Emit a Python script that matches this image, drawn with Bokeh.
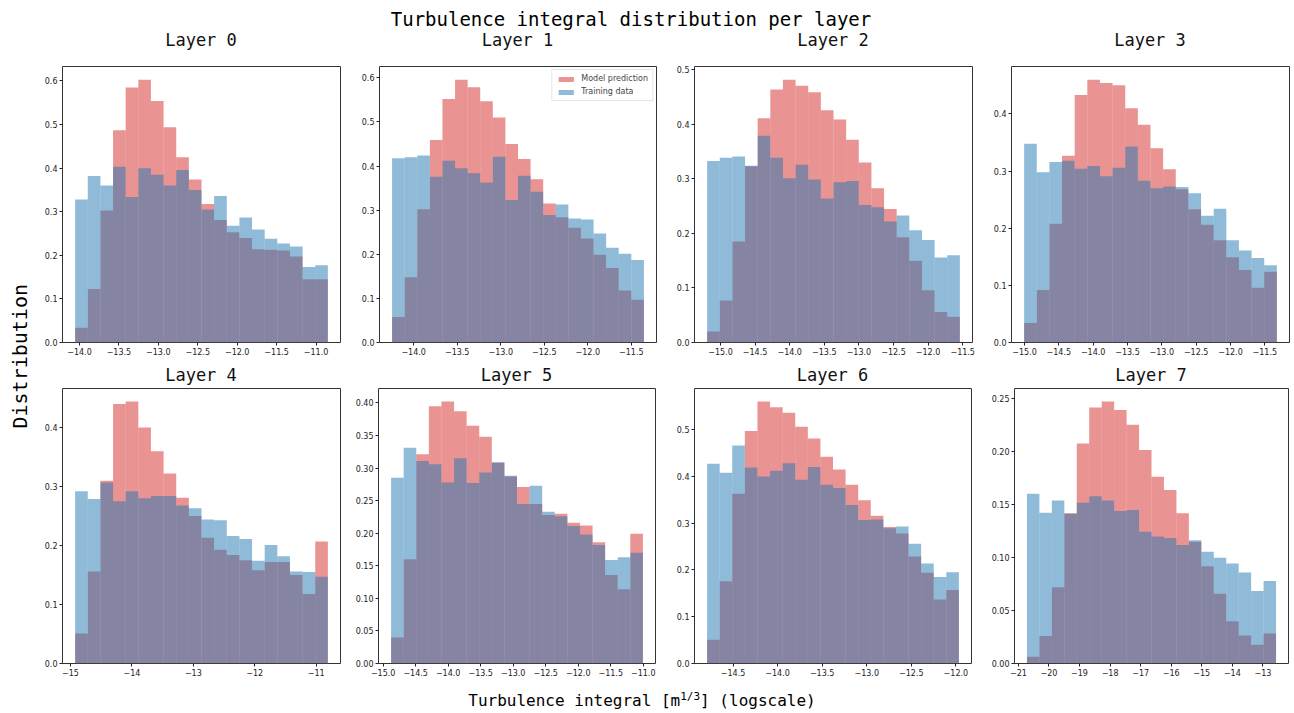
import numpy as np
from bokeh.plotting import figure
from bokeh.models import (Range1d, FixedTicker, CustomJSTickFormatter, Div,
                          Legend, LegendItem)
from bokeh.layouts import row, column
from bokeh.embed import file_html
from bokeh.resources import INLINE

# ---------------- data ----------------
layer_names = ["Layer 0", "Layer 1", "Layer 2", "Layer 3",
               "Layer 4", "Layer 5", "Layer 6", "Layer 7"]

# histogram range (first and last bin edge), 20 bins each
bin_lo = [-14.055, -14.248, -15.193, -15.005, -14.924, -14.878, -14.791, -20.72]
bin_hi = [-10.85, -11.355, -11.541, -11.325, -10.81, -11.005, -11.966, -12.57]
n_bins = 20

model_l0 = [0.034, 0.123, 0.303, 0.487, 0.585, 0.603, 0.554, 0.494, 0.425, 0.374,
            0.318, 0.281, 0.253, 0.240, 0.214, 0.213, 0.211, 0.197, 0.145, 0.145]
train_l0 = [0.328, 0.382, 0.360, 0.403, 0.334, 0.400, 0.385, 0.360, 0.396, 0.350,
            0.305, 0.336, 0.268, 0.287, 0.259, 0.238, 0.227, 0.220, 0.173, 0.177]

model_l1 = [0.058, 0.148, 0.302, 0.459, 0.552, 0.596, 0.579, 0.547, 0.510, 0.450,
            0.416, 0.370, 0.315, 0.284, 0.260, 0.236, 0.199, 0.169, 0.118, 0.097]
train_l1 = [0.418, 0.420, 0.424, 0.376, 0.412, 0.395, 0.384, 0.363, 0.421, 0.323,
            0.378, 0.342, 0.289, 0.313, 0.281, 0.279, 0.247, 0.215, 0.201, 0.187]

model_l2 = [0.020, 0.077, 0.185, 0.323, 0.411, 0.464, 0.482, 0.471, 0.459, 0.426,
            0.409, 0.372, 0.330, 0.283, 0.245, 0.193, 0.150, 0.096, 0.056, 0.047]
train_l2 = [0.333, 0.339, 0.341, 0.324, 0.379, 0.339, 0.301, 0.326, 0.299, 0.264,
            0.294, 0.296, 0.252, 0.248, 0.222, 0.233, 0.206, 0.188, 0.156, 0.160]

model_l3 = [0.034, 0.092, 0.208, 0.327, 0.433, 0.460, 0.454, 0.450, 0.410, 0.381,
            0.340, 0.303, 0.268, 0.233, 0.206, 0.179, 0.149, 0.127, 0.096, 0.124]
train_l3 = [0.348, 0.298, 0.316, 0.318, 0.304, 0.309, 0.291, 0.306, 0.343, 0.283,
            0.270, 0.273, 0.272, 0.261, 0.222, 0.234, 0.179, 0.161, 0.148, 0.135]

model_l4 = [0.051, 0.156, 0.310, 0.440, 0.444, 0.400, 0.360, 0.322, 0.281, 0.250,
            0.213, 0.193, 0.184, 0.175, 0.158, 0.172, 0.172, 0.150, 0.118, 0.207]
train_l4 = [0.292, 0.279, 0.307, 0.275, 0.292, 0.280, 0.284, 0.284, 0.268, 0.263,
            0.244, 0.243, 0.216, 0.211, 0.174, 0.201, 0.182, 0.156, 0.155, 0.147]

model_l5 = [0.040, 0.160, 0.321, 0.395, 0.402, 0.387, 0.365, 0.348, 0.308, 0.287,
            0.271, 0.245, 0.228, 0.230, 0.216, 0.212, 0.186, 0.136, 0.114, 0.199]
train_l5 = [0.285, 0.331, 0.311, 0.306, 0.278, 0.315, 0.277, 0.293, 0.309, 0.288,
            0.245, 0.273, 0.233, 0.226, 0.211, 0.198, 0.182, 0.159, 0.163, 0.170]

model_l6 = [0.051, 0.176, 0.363, 0.497, 0.560, 0.548, 0.536, 0.506, 0.481, 0.442,
            0.415, 0.382, 0.349, 0.316, 0.292, 0.278, 0.229, 0.194, 0.137, 0.157]
train_l6 = [0.427, 0.408, 0.466, 0.419, 0.400, 0.412, 0.428, 0.393, 0.420, 0.382,
            0.375, 0.339, 0.307, 0.308, 0.289, 0.293, 0.256, 0.214, 0.185, 0.195]

model_l7 = [0.0063, 0.026, 0.072, 0.142, 0.208, 0.242, 0.2475, 0.2395, 0.2257, 0.2018,
            0.1765, 0.164, 0.142, 0.115, 0.092, 0.066, 0.040, 0.0265, 0.0177, 0.0284]
train_l7 = [0.1605, 0.1425, 0.154, 0.1415, 0.152, 0.158, 0.154, 0.144, 0.145, 0.1245,
            0.120, 0.1185, 0.112, 0.1165, 0.1055, 0.100, 0.0945, 0.086, 0.0685, 0.078]

model_all = [model_l0, model_l1, model_l2, model_l3, model_l4, model_l5, model_l6, model_l7]
train_all = [train_l0, train_l1, train_l2, train_l3, train_l4, train_l5, train_l6, train_l7]

# tick values
xticks = [
    [-14.0, -13.5, -13.0, -12.5, -12.0, -11.5, -11.0],
    [-14.0, -13.5, -13.0, -12.5, -12.0, -11.5],
    [-15.0, -14.5, -14.0, -13.5, -13.0, -12.5, -12.0, -11.5],
    [-15.0, -14.5, -14.0, -13.5, -13.0, -12.5, -12.0, -11.5],
    [-15, -14, -13, -12, -11],
    [-15.0, -14.5, -14.0, -13.5, -13.0, -12.5, -12.0, -11.5, -11.0],
    [-14.5, -14.0, -13.5, -13.0, -12.5, -12.0],
    [-21, -20, -19, -18, -17, -16, -15, -14, -13],
]
yticks = [
    [0.0, 0.1, 0.2, 0.3, 0.4, 0.5, 0.6],
    [0.0, 0.1, 0.2, 0.3, 0.4, 0.5, 0.6],
    [0.0, 0.1, 0.2, 0.3, 0.4, 0.5],
    [0.0, 0.1, 0.2, 0.3, 0.4],
    [0.0, 0.1, 0.2, 0.3, 0.4],
    [0.0, 0.05, 0.10, 0.15, 0.20, 0.25, 0.30, 0.35, 0.40],
    [0.0, 0.1, 0.2, 0.3, 0.4, 0.5],
    [0.0, 0.05, 0.10, 0.15, 0.20, 0.25],
]
x_decimals = [1, 1, 1, 1, 0, 1, 1, 0]
y_decimals = [1, 1, 1, 1, 1, 2, 1, 2]

series_labels = ["Model prediction", "Training data"]
suptitle = "Turbulence integral distribution per layer"
xlabel_html = "Turbulence integral [m<sup style='font-size:11px'>1/3</sup>] (logscale)"
ylabel = "Distribution"

# ---------------- styling ----------------
RED = "#d62728"
BLUE = "#1f77b4"
MONO = "DejaVu Sans Mono"
SANS = "DejaVu Sans"

# (left border, frame width, right border) per panel
geom_top = [(28, 278, 5), (34, 277, 4), (34, 278, 5), (34, 278, 5)]
geom_bot = [(28, 278, 5), (33, 277, 5), (34, 277, 6), (37, 274, 6)]
title_h = [26, 23]          # height of the title strip above each row
title_pad = [0, 3]          # padding above the title text
top_border = [10, 3]
frame_h = [276, 275]
bottom_border = 20


def fmt(dec):
    return CustomJSTickFormatter(
        code="return tick.toFixed(%d).replace('-', '\u2212');" % dec)


cells = []
for i in range(8):
    r = i // 4
    c = i % 4
    lb, fw, rb = (geom_top if r == 0 else geom_bot)[c]
    edges = np.linspace(bin_lo[i], bin_hi[i], n_bins + 1)
    span = bin_hi[i] - bin_lo[i]
    ymax = max(max(model_all[i]), max(train_all[i])) * 1.05
    p = figure(width=lb + fw + rb, height=top_border[r] + frame_h[r] + bottom_border,
               x_range=Range1d(bin_lo[i] - 0.05 * span, bin_hi[i] + 0.05 * span),
               y_range=Range1d(0, ymax), title=None,
               min_border_left=lb, min_border_right=rb,
               min_border_top=top_border[r], min_border_bottom=bottom_border,
               output_backend="svg", toolbar_location=None,
               background_fill_color="white", border_fill_color="white")

    rm = p.quad(left=edges[:-1], right=edges[1:], bottom=0, top=model_all[i],
                fill_color=RED, fill_alpha=0.5, line_color=None)
    rt = p.quad(left=edges[:-1], right=edges[1:], bottom=0, top=train_all[i],
                fill_color=BLUE, fill_alpha=0.5, line_color=None)

    p.xgrid.visible = False
    p.ygrid.visible = False
    p.outline_line_color = "#333333"
    p.outline_line_width = 1
    for ax, ticks, dec in ((p.xaxis[0], xticks[i], x_decimals[i]),
                           (p.yaxis[0], yticks[i], y_decimals[i])):
        ax.ticker = FixedTicker(ticks=ticks)
        ax.formatter = fmt(dec)
        ax.axis_line_color = None
        ax.major_tick_in = 0
        ax.major_tick_out = 3
        ax.minor_tick_in = 0
        ax.minor_tick_out = 0
        ax.major_tick_line_color = "#222222"
        ax.major_label_text_font = SANS
        ax.major_label_text_font_size = "8px"
        ax.major_label_text_color = "#222222"
        ax.major_label_standoff = 2

    if i == 1:
        legend = Legend(items=[LegendItem(label=series_labels[0], renderers=[rm]),
                               LegendItem(label=series_labels[1], renderers=[rt])],
                        location="top_right")
        legend.label_text_font = SANS
        legend.label_text_font_size = "8px"
        legend.label_height = 8
        legend.glyph_width = 19
        legend.glyph_height = 6
        legend.spacing = 4
        legend.padding = 4
        legend.margin = 3
        legend.label_standoff = 6
        legend.border_line_color = "#cccccc"
        legend.background_fill_alpha = 0.8
        p.add_layout(legend)

    t = Div(text=("<div style=\"margin-left:%dpx;width:%dpx;padding-top:%dpx;"
                  "line-height:20px;text-align:center;font-family:'%s';font-size:17px;"
                  "color:#111;white-space:nowrap\">%s</div>")
            % (lb, fw, title_pad[r], MONO, layer_names[i]),
            width=lb + fw + rb, height=title_h[r], margin=(0, 0, 0, 0))
    cells.append(column(t, p, spacing=0))

sup = Div(text=("<div style=\"width:1262px;height:22px;padding-top:8px;line-height:22px;"
                "text-align:center;font-family:'%s';font-size:19px;color:#000;"
                "white-space:nowrap\">%s</div>") % (MONO, suptitle),
          width=1294, height=30, margin=(0, 0, 0, 0))
ylab = Div(text=("<div style=\"width:34px;height:653px;display:flex;align-items:center;"
                 "justify-content:center;padding-left:6px;box-sizing:border-box\">"
                 "<span style=\"writing-mode:vertical-rl;transform:rotate(180deg);"
                 "font-family:'%s';font-size:20px;color:#000;white-space:nowrap\">%s</span>"
                 "</div>") % (MONO, ylabel),
           width=34, height=653, margin=(0, 0, 0, 0))
xlab = Div(text=("<div style=\"width:1284px;height:27px;padding-top:3px;line-height:22px;"
                 "text-align:center;font-family:'%s';font-size:16px;color:#000;"
                 "white-space:nowrap\">%s</div>") % (MONO, xlabel_html),
           width=1294, height=30, margin=(0, 0, 0, 0))

grid = column(row(*cells[:4], spacing=0), row(*cells[4:], spacing=0), spacing=0)
layout = column(sup, row(ylab, grid, spacing=0), xlab, spacing=0)

open("out.html", "w").write(file_html(layout, INLINE))
